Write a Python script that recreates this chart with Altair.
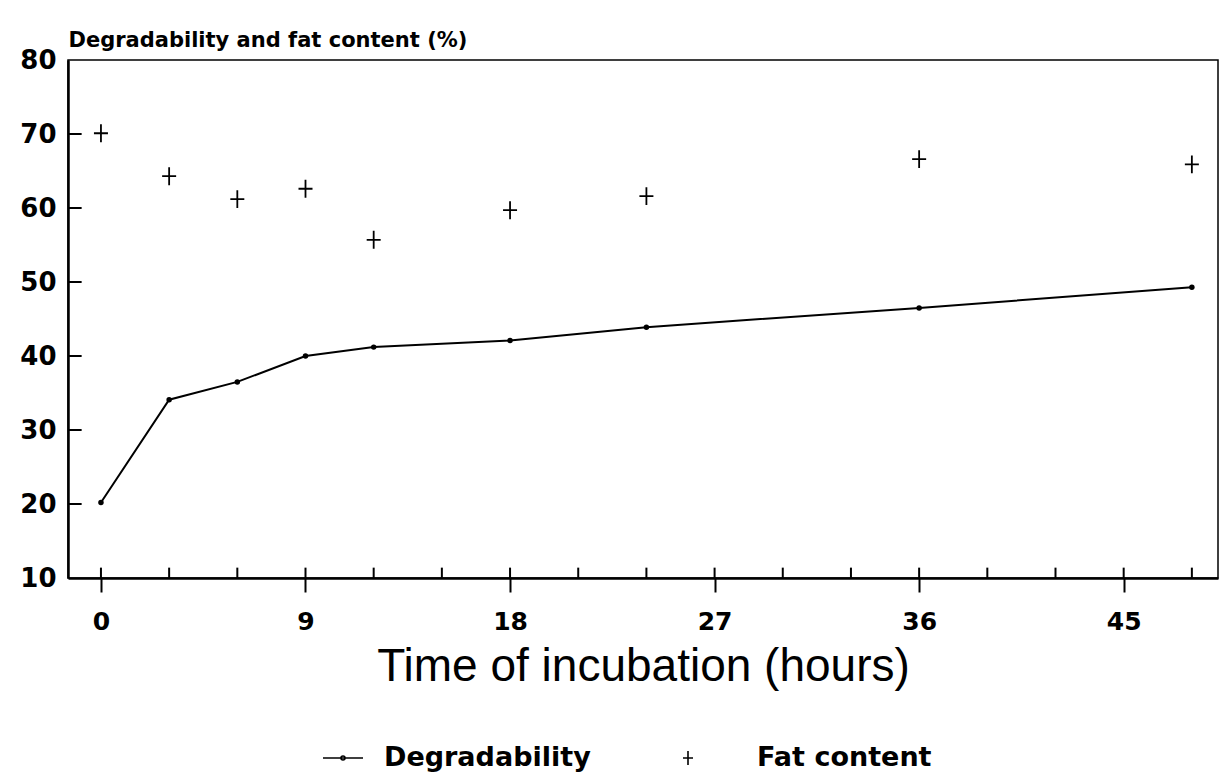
import altair as alt
import pandas as pd

# ---- data ----
hours = [0, 3, 6, 9, 12, 18, 24, 36, 48]
degradability = [20.2, 34.1, 36.5, 40.0, 41.2, 42.1, 43.9, 46.5, 49.3]
fat_content = [70.1, 64.3, 61.2, 62.6, 55.7, 59.7, 61.6, 66.6, 65.9]

x_tick_labels = [0, 9, 18, 27, 36, 45]
x_minor_ticks = [0, 3, 6, 9, 12, 15, 18, 21, 24, 27, 30, 33, 36, 39, 42, 45, 48]
y_tick_labels = [10, 20, 30, 40, 50, 60, 70, 80]
y_inner_ticks = [20, 30, 40, 50, 60, 70]

series_names = ["Degradability", "Fat content"]

X_DOMAIN = [-1.45, 49.15]
Y_DOMAIN = [10, 80]

deg_df = pd.DataFrame({"hour": hours, "value": degradability, "series": "Degradability"})
fat_df = pd.DataFrame({"hour": hours, "value": fat_content, "series": "Fat content"})
all_df = pd.concat([deg_df, fat_df], ignore_index=True)
xt_df = pd.DataFrame({"hour": x_minor_ticks})
yt_df = pd.DataFrame({"value": y_inner_ticks})

FONT_B = "DejaVu Sans"

xscale = alt.Scale(domain=X_DOMAIN, nice=False, zero=False)
yscale = alt.Scale(domain=Y_DOMAIN, nice=False, zero=False)

x_enc = alt.X(
    "hour:Q", scale=xscale,
    axis=alt.Axis(
        values=x_tick_labels, title="Time of incubation (hours)",
        grid=False, domainColor="black", domainWidth=2.5,
        tickColor="black", tickWidth=2, tickSize=14,
        labelFont=FONT_B, labelFontWeight="bold", labelFontSize=25, labelColor="black",
        labelPadding=17,
        titleFont="Liberation Sans", titleFontSize=46, titleFontWeight="normal",
        titleColor="black", titlePadding=10,
    ),
)
y_enc = alt.Y(
    "value:Q", scale=yscale,
    axis=alt.Axis(
        values=y_tick_labels, title="Degradability and fat content (%)",
        grid=False, domainColor="black", domainWidth=2.5,
        ticks=False, labelPadding=12,
        labelFont=FONT_B, labelFontWeight="bold", labelFontSize=26, labelColor="black",
        titleAngle=0, titleAlign="left", titleBaseline="bottom",
        titleX=0, titleY=-10,
        titleFont=FONT_B, titleFontWeight="bold", titleFontSize=21, titleColor="black",
    ),
)

line = alt.Chart(deg_df).mark_line(color="black", strokeWidth=2).encode(x=x_enc, y=y_enc)
dots = alt.Chart(deg_df).mark_point(filled=True, color="black", size=30, opacity=1).encode(
    x="hour:Q", y="value:Q"
)

plus_chart = "M-0.25,0H0.25M0,-0.32V0.32"
fat_pts = alt.Chart(fat_df).mark_point(
    filled=False, color="black", size=3136, strokeWidth=1.8, opacity=1,
    shape=plus_chart,
).encode(x="hour:Q", y="value:Q")

# legend-only layer (invisible marks, visible legend symbols)
line_sym = "M-1,0H1M-0.1,0A0.1,0.1,0,1,1,0.1,0A0.1,0.1,0,1,1,-0.1,0"
plus_sym = "M-1.65,0H-1.15M-1.4,-0.35V0.35"
legend_layer = alt.Chart(all_df).mark_point(
    filled=False, color="black", size=10, strokeWidth=1.6, opacity=0
).encode(
    x="hour:Q", y="value:Q",
    shape=alt.Shape(
        "series:N",
        scale=alt.Scale(domain=series_names, range=[line_sym, plus_sym]),
        legend=alt.Legend(
            title=None, orient="none", direction="horizontal",
            legendX=254, legendY=677,
            symbolSize=1600, symbolStrokeWidth=1.6, symbolStrokeColor="black",
            symbolOpacity=1,
            labelFont=FONT_B, labelFontWeight="bold", labelFontSize=27,
            labelColor="black", labelOffset=20, columnPadding=88, labelLimit=0,
        ),
    ),
)

xticks = alt.Chart(xt_df).mark_rule(color="black", strokeWidth=2).encode(
    x="hour:Q", y=alt.datum(10), y2=alt.datum(11.4)
)
yticks = alt.Chart(yt_df).mark_rule(color="black", strokeWidth=2).encode(
    y="value:Q", x=alt.datum(X_DOMAIN[0]), x2=alt.datum(X_DOMAIN[0] + 0.6)
)

chart = (
    alt.layer(line, dots, fat_pts, legend_layer, xticks, yticks)
    .properties(
        width=1150, height=518,
        autosize=alt.AutoSizeParams(type="none"),
        padding={"left": 68, "top": 60, "right": 3, "bottom": 195},
        background="white",
    )
    .configure_view(stroke="black", strokeWidth=1.5)
)

chart.save("out.html", embed_options={"renderer": "svg", "actions": False})
